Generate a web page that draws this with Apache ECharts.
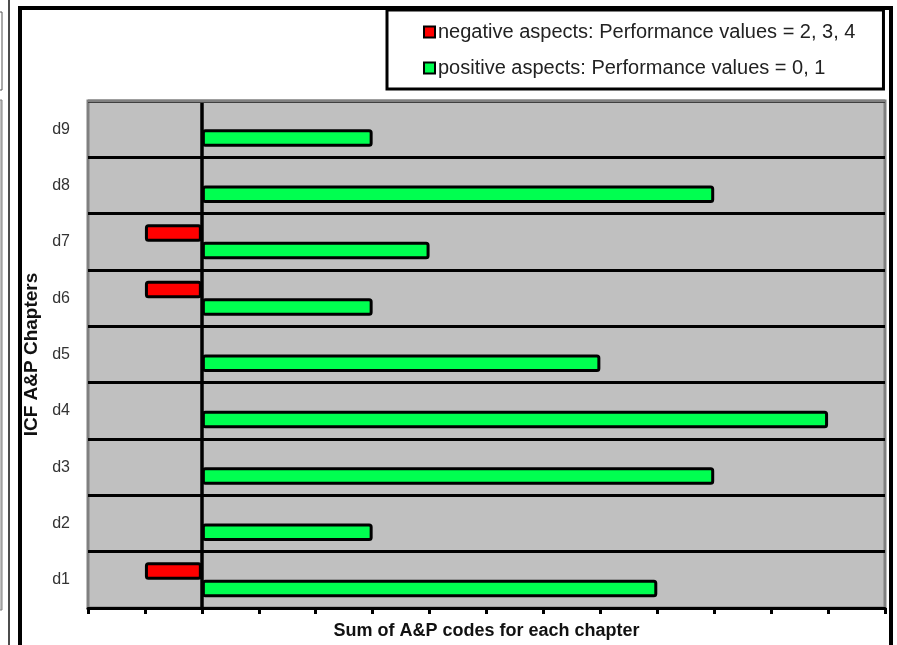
<!DOCTYPE html>
<html>
<head>
<meta charset="utf-8">
<script src="https://cdn.jsdelivr.net/npm/echarts@6/dist/echarts.min.js"></script>
<style>
  html, body { margin: 0; padding: 0; background: #fff; }
  #chart { width: 897px; height: 645px; }
</style>
</head>
<body>
<div id="chart"></div>
<script>
const chapters = ['d1', 'd2', 'd3', 'd4', 'd5', 'd6', 'd7', 'd8', 'd9']
const negativeAspects = [-1, 0, 0, 0, 0, -1, -1, 0, 0]
const positiveAspects = [8, 3, 9, 11, 7, 3, 4, 9, 3]
const xMin = -2
const xMax = 12

const chart = echarts.init(document.getElementById('chart'))

const gridLeft = 88
const gridTop = 101
const gridRight = 12
const gridBottom = 33

// empty chapters get no bar at all (a zero bar would leave a border stub)
const noZero = arr => arr.map(v => (v === 0 ? '-' : v))

const barStyle = (color) => ({
  color: color,
  borderColor: '#000',
  borderWidth: 3,
  borderRadius: 2,
})

const option = {
  animation: false,
  backgroundColor: '#fff',
  textStyle: { fontFamily: 'Liberation Sans, Arial, sans-serif' },
  grid: {
    left: gridLeft,
    top: gridTop,
    right: gridRight,
    bottom: gridBottom,
    show: true,
    backgroundColor: '#c0c0c0',
    borderColor: '#808080',
    borderWidth: 3,
  },
  legend: {
    orient: 'vertical',
    left: 387,
    top: 10,
    padding: [12, 28, 11, 36],
    itemGap: 16,
    itemWidth: 11,
    itemHeight: 11,
    icon: 'rect',
    align: 'left',
    backgroundColor: '#fff',
    borderColor: '#000',
    borderWidth: 3,
    itemStyle: { borderColor: '#000', borderWidth: 2 },
    textStyle: { fontSize: 20, color: '#222', padding: [0, 0, 0, -2] },
  },
  xAxis: {
    type: 'value',
    min: xMin,
    max: xMax,
    interval: 1,
    name: 'Sum of A&P codes for each chapter',
    nameLocation: 'middle',
    nameGap: 14,
    nameTextStyle: { fontSize: 18, fontWeight: 'bold', color: '#111' },
    axisLine: { show: true, onZero: false, lineStyle: { color: '#000', width: 3 } },
    axisTick: { show: true, length: 6, lineStyle: { color: '#000', width: 3 } },
    axisLabel: { show: false },
    splitLine: { show: false },
  },
  yAxis: {
    type: 'category',
    data: chapters,
    name: 'ICF A&P Chapters',
    nameLocation: 'middle',
    nameGap: 42,
    nameTextStyle: { fontSize: 19, fontWeight: 'bold', color: '#111' },
    axisLine: { show: false },
    axisTick: { show: false },
    axisLabel: { fontSize: 16, color: '#333', margin: 18 },
    splitLine: { show: true, lineStyle: { color: '#000', width: 3 } },
  },
  series: [
    {
      name: 'negative aspects: Performance values = 2, 3, 4',
      type: 'bar',
      data: noZero(negativeAspects),
      barGap: '0%',
      barCategoryGap: '38%',
      itemStyle: barStyle('#ff0000'),
    },
    {
      name: 'positive aspects: Performance values = 0, 1',
      type: 'bar',
      data: noZero(positiveAspects),
      barGap: '0%',
      barCategoryGap: '38%',
      itemStyle: barStyle('#00ff50'),
      z: 3,
      markLine: {
        silent: true,
        symbol: 'none',
        z: 10,
        label: { show: false },
        lineStyle: { color: '#000', width: 3.5, type: 'solid' },
        data: [{ xAxis: 0 }],
      },
    },
  ],
  graphic: [
    // outer frame of the figure
    {
      type: 'rect',
      shape: { x: 20, y: 8, width: 871, height: 660 },
      style: { fill: null, stroke: '#000', lineWidth: 4 },
      z: 100,
    },
    // top edge of the plot area stays grey
    {
      type: 'line',
      shape: { x1: gridLeft, y1: gridTop, x2: 897 - gridRight, y2: gridTop },
      style: { stroke: '#808080', lineWidth: 3 },
      z: 100,
    },
    // piece of the neighbouring panel on the left edge
    {
      type: 'rect',
      shape: { x: -10, y: 12, width: 12, height: 78 },
      style: { fill: '#fff', stroke: '#555', lineWidth: 1 },
    },
    {
      type: 'rect',
      shape: { x: -10, y: 100, width: 12, height: 510 },
      style: { fill: '#c0c0c0', stroke: '#808080', lineWidth: 1 },
    },
    {
      type: 'line',
      shape: { x1: 9, y1: 0, x2: 9, y2: 645 },
      style: { stroke: '#111', lineWidth: 1.5 },
    },
  ],
}

chart.setOption(option)
</script>
</body>
</html>
